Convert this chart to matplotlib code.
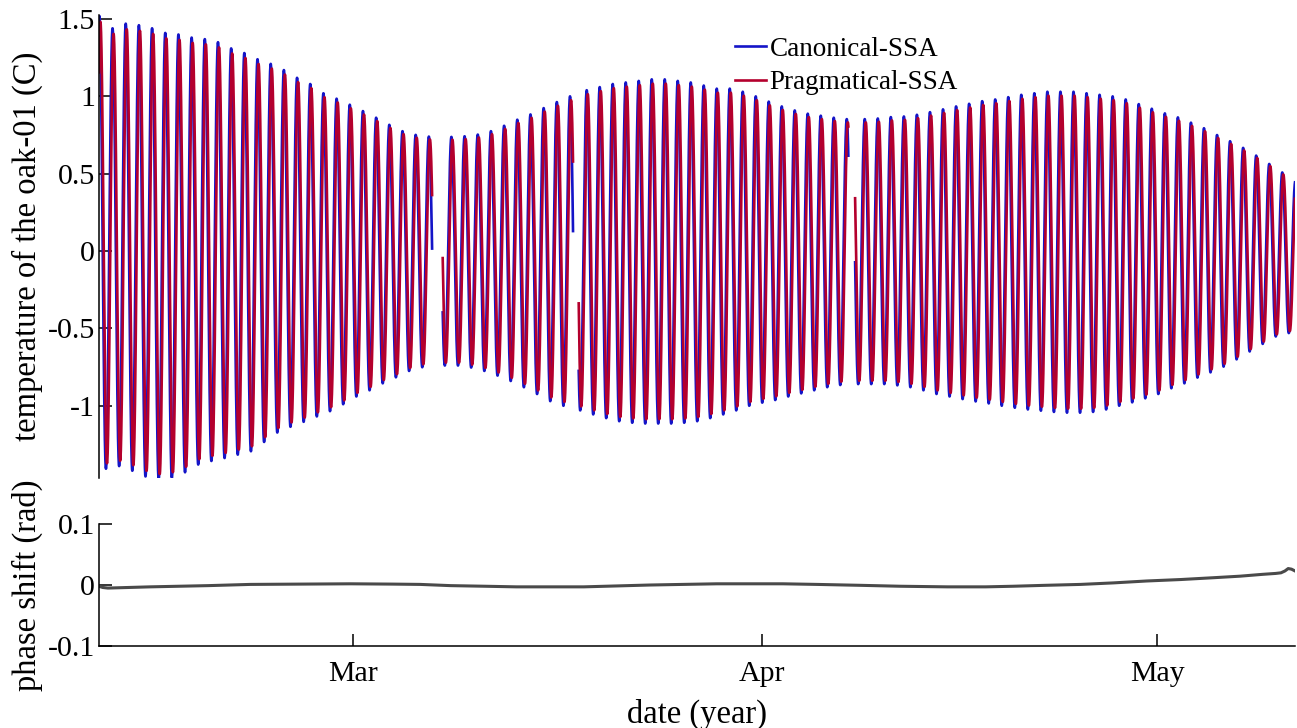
import numpy as np
import matplotlib.pyplot as plt
import matplotlib.dates as mdates
from matplotlib.ticker import FuncFormatter

plt.rcParams['font.family'] = ['Liberation Serif', 'DejaVu Serif']

# reference date: all times below are days counted from 1 March
t_ref = mdates.date2num(np.datetime64('2021-03-01'))
x_range = (-19.28, 71.47)

# data segments (gaps in the record between them)
seg_start = [-19.28, 6.80, 17.12, 38.09]
seg_end = [6.00, 16.69, 37.58, 71.47]
seg_first_ext = [-19.75, 6.46, 16.74, 37.83]   # time of first listed extremum
seg_period = [1.0, 1.0, 0.9865, 0.990]

# Canonical-SSA daily extrema (alternating trough / peak)
canon_ext1 = [-1.40, 1.52, -1.407, 1.44, -1.39, 1.47, -1.42, 1.46, -1.457, 1.44,
              -1.478, 1.41, -1.466, 1.40, -1.43, 1.38, -1.38, 1.37, -1.357, 1.35,
              -1.338, 1.31, -1.316, 1.28, -1.294, 1.24, -1.234, 1.21, -1.173, 1.17,
              -1.136, 1.12, -1.104, 1.08, -1.069, 1.02, -1.035, 0.985, -0.99, 0.946,
              -0.94, 0.905, -0.90, 0.862, -0.855, 0.816, -0.816, 0.775, -0.775, 0.751,
              -0.751, 0.74, -0.745]
canon_ext2 = [0.74, -0.74, 0.738, -0.74, 0.742, -0.753, 0.753, -0.775, 0.775,
              -0.805, 0.81, -0.84, 0.849, -0.88, 0.883, -0.924, 0.924, -0.97, 0.963,
              -1.0, 1.0, -1.02]
canon_ext3 = [1.02, -1.03, 1.04, -1.056, 1.06, -1.08, 1.08, -1.10, 1.09, -1.11, 1.10,
              -1.115, 1.11, -1.115, 1.11, -1.115, 1.10, -1.11, 1.09, -1.10, 1.07,
              -1.08, 1.05, -1.056, 1.05, -1.03, 1.03, -1.0, 1.0, -0.98, 0.966,
              -0.963, 0.935, -0.94, 0.909, -0.92, 0.888, -0.90, 0.875, -0.88, 0.862,
              -0.866, 0.853, -0.86]
canon_ext4 = [0.85, -0.86, 0.853, -0.86, 0.857, -0.86, 0.866, -0.868, 0.87, -0.88, 0.881,
              -0.90, 0.898, -0.924, 0.916, -0.94, 0.935, -0.957, 0.952, -0.972, 0.969,
              -0.985, 0.98, -1.0, 0.995, -1.013, 1.01, -1.024, 1.02, -1.032, 1.03,
              -1.04, 1.03, -1.045, 1.03, -1.045, 1.02, -1.04, 1.01, -1.024, 1.0,
              -1.0, 0.98, -0.978, 0.95, -0.952, 0.92, -0.924, 0.89, -0.887, 0.864,
              -0.855, 0.83, -0.818, 0.794, -0.784, 0.75, -0.747, 0.71, -0.70, 0.667,
              -0.649, 0.617, -0.60, 0.563, -0.552, 0.508, -0.53, 0.45]
canon_ext = [canon_ext1, canon_ext2, canon_ext3, canon_ext4]

# Pragmatical-SSA: slightly smaller and a little later than Canonical-SSA
prag_scale = 0.975
prag_lag = 0.08

# phase shift between both (rad)
phase_day = [-19.28, -19.0, -18.6, -17.0, -15.4, -11.0, -7.8, -4.0, -0.2, 3.0, 5.1, 7.4,
             10.0, 12.4, 15.0, 17.5, 20.0, 22.5, 25.0, 27.6, 30.0, 32.6, 35.2, 38.5,
             41.5, 45.1, 48.0, 50.1, 52.5, 55.2, 57.7, 60.2, 62.8, 65.3, 67.3, 69.0,
             70.0, 70.4, 70.7, 70.95, 71.2, 71.47]
phase_val = [-0.002, -0.004, -0.005, -0.004, -0.003, -0.001, 0.001, 0.0015, 0.002, 0.0015,
             0.001, -0.001, -0.002, -0.003, -0.003, -0.003, -0.0015, 0.0, 0.001, 0.002,
             0.002, 0.002, 0.001, -0.0005, -0.002, -0.003, -0.003, -0.002, -0.0005, 0.001,
             0.0035, 0.0066, 0.009, 0.012, 0.0145, 0.0175, 0.019, 0.020, 0.023, 0.027,
             0.026, 0.023]


def daily_wave(t, t_first, period, ext):
    # joins consecutive extrema with half cosines
    ext = np.asarray(ext)
    half = period / 2
    k = np.clip(np.floor((t - t_first) / half).astype(int), 0, len(ext) - 2)
    ti = t_first + k * half
    v0, v1 = ext[k], ext[k + 1]
    return (v0 + v1) / 2 + (v0 - v1) / 2 * np.cos(np.pi * (t - ti) / half)


def build(scale=1.0, lag=0.0):
    ts, vs = [], []
    for i in range(len(seg_start)):
        t = np.arange(seg_start[i], seg_end[i], 0.004)
        v = scale * daily_wave(t - lag, seg_first_ext[i], seg_period[i], canon_ext[i])
        ts += [t, [np.nan]]
        vs += [v, [np.nan]]
    return np.concatenate(ts), np.concatenate(vs)


t_c, v_c = build()
t_p, v_p = build(prag_scale, prag_lag)

fig = plt.figure(figsize=(12.97, 7.28), dpi=100)
ax1 = fig.add_axes([0.0763, 0.3434, 0.9222, 0.636])
ax2 = fig.add_axes([0.0763, 0.1126, 0.9222, 0.1676])

ax1.plot(t_ref + t_c, v_c, color='#1414c8', lw=1.9, label='Canonical-SSA')
ax1.plot(t_ref + t_p, v_p, color='#b4002d', lw=1.9, label='Pragmatical-SSA')
ax1.set_ylim(-1.467, 1.526)
ax1.set_yticks([-1, -0.5, 0, 0.5, 1, 1.5])
ax1.set_ylabel('temperature of the oak-01 (C)', fontsize=23.5)
ax1.legend(loc='upper left', bbox_to_anchor=(0.532, 0.953), frameon=False,
           fontsize=19.5, handlelength=1.15, handletextpad=0.12, labelspacing=0.31,
           borderpad=0, borderaxespad=0)
for s in ['top', 'right', 'bottom']:
    ax1.spines[s].set_visible(False)
ax1.tick_params(axis='x', bottom=False, labelbottom=False)

ax2.plot(t_ref + np.array(phase_day), phase_val, color='#4a4a4a', lw=2.2)
ax2.set_ylim(-0.1, 0.1)
ax2.set_yticks([-0.1, 0, 0.1])
ax2.set_ylabel('phase shift (rad)', fontsize=23.5)
ax2.set_xlabel('date (year)', fontsize=23.5, labelpad=8)
for s in ['top', 'right']:
    ax2.spines[s].set_visible(False)
ax2.xaxis.set_major_locator(mdates.MonthLocator())
ax2.xaxis.set_major_formatter(mdates.DateFormatter('%b'))

for ax in (ax1, ax2):
    ax.set_xlim(t_ref + x_range[0], t_ref + x_range[1])
    ax.yaxis.set_major_formatter(FuncFormatter(lambda v, p: f'{v:g}'))
    ax.tick_params(direction='in', length=9, width=1.1, labelsize=21.5, pad=3)
    ax.tick_params(axis='x', pad=11)
    ax.spines['left'].set_linewidth(1.1)
    ax.spines['bottom'].set_linewidth(1.1)
    ax.yaxis.set_label_coords(-0.047, 0.5)

fig.savefig('out.png', dpi=100)
